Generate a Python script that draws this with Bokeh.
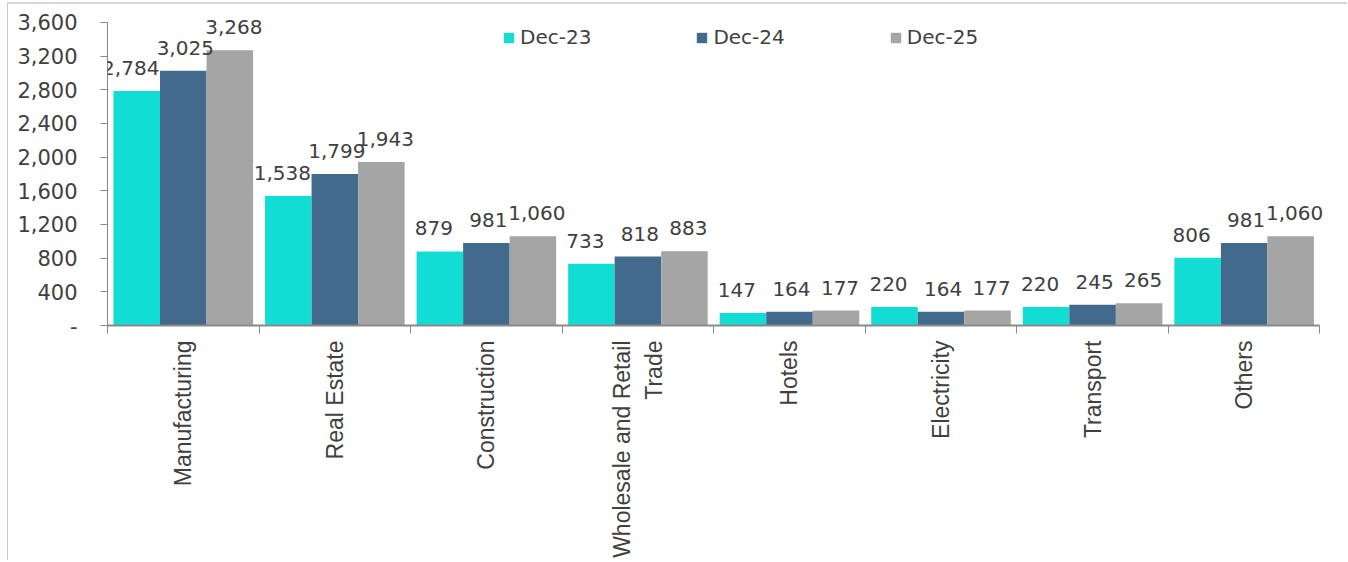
import math
from bokeh.plotting import figure
from bokeh.core.properties import value
from bokeh.models import (ColumnDataSource, FixedTicker, LabelSet, Legend, LegendItem,
                          NumeralTickFormatter, Range1d)
from bokeh.embed import file_html
from bokeh.resources import INLINE

categories = ["Manufacturing", "Real Estate", "Construction", "Wholesale and Retail\nTrade",
              "Hotels", "Electricity", "Transport", "Others"]
series_names = ["Dec-23", "Dec-24", "Dec-25"]
dec23 = [2784, 1538, 879, 733, 147, 220, 220, 806]
dec24 = [3025, 1799, 981, 818, 164, 164, 245, 981]
dec25 = [3268, 1943, 1060, 883, 177, 177, 265, 1060]
y_ticks = [0, 400, 800, 1200, 1600, 2000, 2400, 2800, 3200, 3600]
colors = ["#12DDD4", "#416A8D", "#A5A5A5"]

NUM_FONT = "DejaVu Sans"
CAT_FONT = "Liberation Sans"
TXT = "#404040"
AX = "#898989"

n = len(categories)
centers = list(range(1, n + 1))
bounds = [c - 0.5 for c in centers] + [n + 0.5]
bw = 0.307
offsets = [-bw, 0.0, bw]
label_dx = [-6, 2, 4]

y_max = y_ticks[-1]
p = figure(width=1340, height=558, output_backend="svg", toolbar_location=None,
           x_range=Range1d(0.5, n + 0.55), y_range=Range1d(0, y_max * 3800 / 3600),
           min_border_left=99, min_border_right=21, min_border_top=1, min_border_bottom=237,
           margin=(2, 0, 0, 7),
           styles={"border-left": "1px solid #c8c8c8", "border-top": "2px solid #d6d6d6"})
p.outline_line_color = None
p.xgrid.visible = False
p.ygrid.visible = False
p.background_fill_color = "white"
p.border_fill_color = "white"

items = []
for vals, name, col, off, dx in zip([dec23, dec24, dec25], series_names, colors, offsets, label_dx):
    src = ColumnDataSource(dict(x=[c + off for c in centers], top=vals,
                                txt=[f"{v:,}" for v in vals]))
    r = p.vbar(x="x", top="top", width=bw, bottom=0, source=src, fill_color=col, line_color=None)
    items.append(LegendItem(label=name, renderers=[r]))
    p.add_layout(LabelSet(x="x", y="top", text="txt", source=src, x_offset=dx, y_offset=16,
                          text_align="center", text_baseline="alphabetic",
                          text_font=value(NUM_FONT), text_font_size="20px", text_color=TXT))

# y axis
ya = p.yaxis[0]
ya.bounds = (0, y_max)
ya.ticker = FixedTicker(ticks=y_ticks)
ya.formatter = NumeralTickFormatter(format="0,0")
ya.major_label_overrides = {0: "-"}
ya.major_tick_in = 0
ya.major_tick_out = 7
ya.minor_tick_line_color = None
ya.axis_line_color = AX
ya.major_tick_line_color = AX
ya.major_label_standoff = 23
ya.major_label_text_font = NUM_FONT
ya.major_label_text_font_size = "21px"
ya.major_label_text_color = TXT

# x axis
xa = p.xaxis[0]
xa.bounds = (0.5, n + 0.5)
xa.ticker = FixedTicker(ticks=centers, minor_ticks=bounds)
xa.major_label_overrides = {c: lab for c, lab in zip(centers, categories)}
xa.major_tick_in = 0
xa.major_tick_out = 0
xa.minor_tick_in = 0
xa.minor_tick_out = 8
xa.minor_tick_line_color = AX
xa.axis_line_color = AX
xa.axis_line_width = 2
xa.major_label_orientation = math.pi / 2
xa.major_label_standoff = 7
xa.major_label_text_font = CAT_FONT
xa.major_label_text_font_size = "23px"
xa.major_label_text_color = TXT
xa.major_label_text_align = "center"

legend = Legend(items=items, orientation="horizontal", location=(395, 276),
                glyph_width=13, glyph_height=13, label_standoff=5, spacing=104,
                label_height=24, padding=0, margin=0, border_line_alpha=0,
                background_fill_alpha=0,
                label_text_font=NUM_FONT, label_text_font_size="20px", label_text_color=TXT)
p.add_layout(legend)

open("out.html", "w").write(file_html(p, INLINE))
